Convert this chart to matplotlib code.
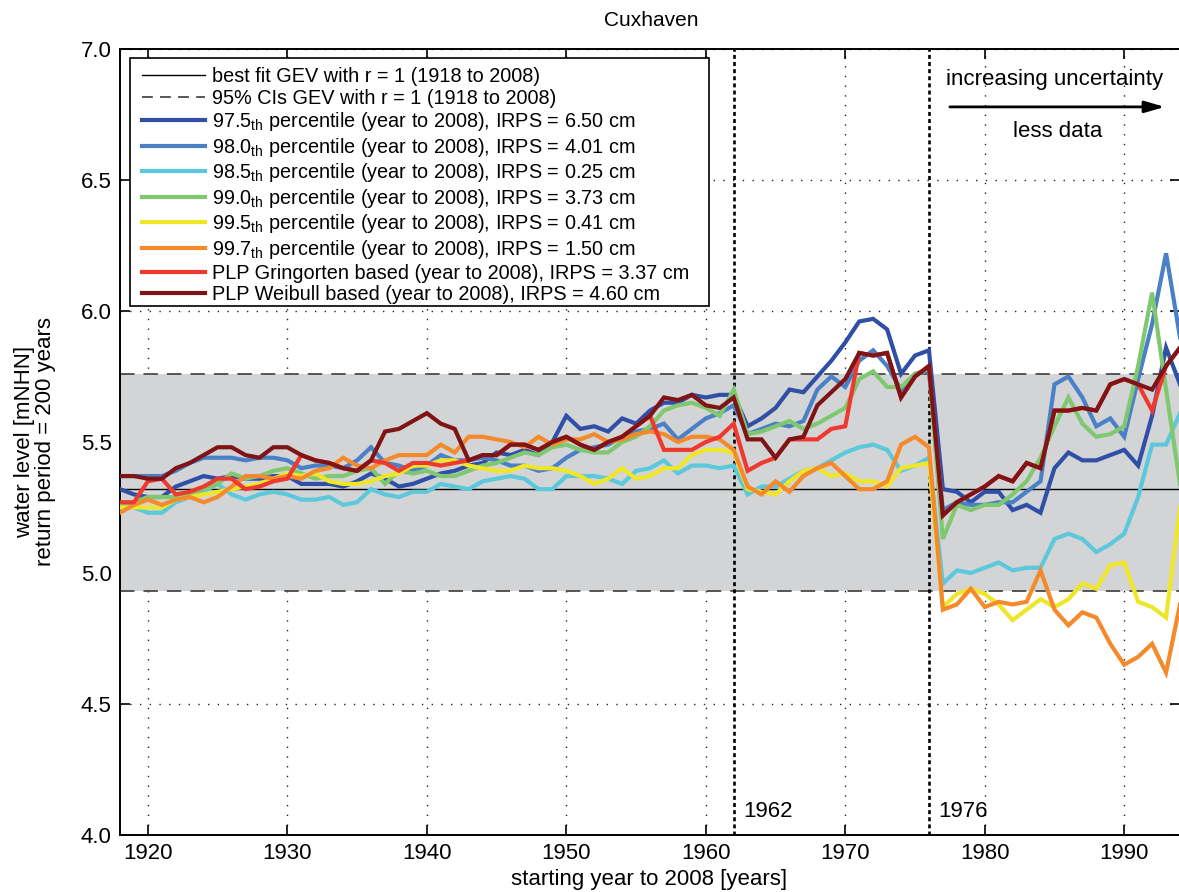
import numpy as np
import matplotlib
matplotlib.use("Agg")
import matplotlib.pyplot as plt
from matplotlib.lines import Line2D
from matplotlib.patches import Rectangle

plt.rcParams['font.family'] = ['Liberation Sans', 'DejaVu Sans']
plt.rcParams['mathtext.fontset'] = 'custom'
plt.rcParams['mathtext.rm'] = 'Liberation Sans'

# ---- data -----------------------------------------------------------------
years = np.arange(1918, 1995)

best_fit = 5.32
ci_low, ci_high = 4.93, 5.76

p975 = [5.32, 5.30, 5.29, 5.29, 5.33, 5.35, 5.37, 5.36, 5.37, 5.36, 5.36, 5.37, 5.37, 5.34, 5.34, 5.34, 5.33, 5.35, 5.38, 5.36, 5.33, 5.34,
        5.36, 5.38, 5.39, 5.41, 5.42, 5.46, 5.45, 5.47, 5.45, 5.50, 5.60, 5.55, 5.56, 5.54, 5.59, 5.57, 5.62, 5.65, 5.65, 5.68, 5.67, 5.68,
        5.68, 5.56, 5.59, 5.63, 5.70, 5.69, 5.75, 5.81, 5.88, 5.96, 5.97, 5.93, 5.76, 5.83, 5.85,
        5.32, 5.31, 5.27, 5.31, 5.31, 5.24, 5.26, 5.23, 5.40, 5.46, 5.43, 5.43, 5.45, 5.47, 5.41, 5.60, 5.86, 5.72]

p980 = [5.37, 5.37, 5.37, 5.37, 5.39, 5.42, 5.44, 5.44, 5.44, 5.43, 5.44, 5.44, 5.43, 5.40, 5.41, 5.41, 5.40, 5.43, 5.48, 5.42, 5.41, 5.39,
        5.41, 5.45, 5.43, 5.43, 5.44, 5.43, 5.41, 5.41, 5.39, 5.40, 5.44, 5.47, 5.48, 5.49, 5.52, 5.54, 5.55, 5.57, 5.51, 5.55, 5.59, 5.61,
        5.64, 5.53, 5.55, 5.57, 5.56, 5.58, 5.70, 5.75, 5.71, 5.81, 5.85, 5.79, 5.70, 5.76, 5.77,
        5.24, 5.27, 5.26, 5.26, 5.27, 5.27, 5.31, 5.35, 5.72, 5.75, 5.67, 5.56, 5.59, 5.52, 5.74, 5.95, 6.22, 5.90]

p985 = [5.26, 5.25, 5.23, 5.23, 5.27, 5.29, 5.31, 5.34, 5.30, 5.28, 5.30, 5.31, 5.30, 5.28, 5.28, 5.29, 5.26, 5.27, 5.32, 5.30, 5.29, 5.31,
        5.31, 5.34, 5.33, 5.32, 5.35, 5.36, 5.37, 5.36, 5.32, 5.32, 5.37, 5.37, 5.37, 5.36, 5.34, 5.39, 5.40, 5.43, 5.38, 5.41, 5.41, 5.40,
        5.41, 5.30, 5.33, 5.33, 5.36, 5.39, 5.40, 5.43, 5.46, 5.48, 5.49, 5.47, 5.39, 5.41, 5.44,
        4.96, 5.01, 5.00, 5.02, 5.04, 5.01, 5.02, 5.02, 5.13, 5.15, 5.13, 5.08, 5.11, 5.15, 5.29, 5.49, 5.49, 5.61]

p990 = [5.25, 5.27, 5.29, 5.29, 5.29, 5.30, 5.32, 5.34, 5.38, 5.36, 5.37, 5.39, 5.40, 5.38, 5.36, 5.37, 5.37, 5.39, 5.40, 5.34, 5.39, 5.38,
        5.39, 5.37, 5.37, 5.39, 5.41, 5.42, 5.44, 5.46, 5.45, 5.48, 5.49, 5.47, 5.46, 5.46, 5.50, 5.52, 5.56, 5.62, 5.64, 5.65, 5.63, 5.60,
        5.70, 5.53, 5.54, 5.56, 5.58, 5.55, 5.57, 5.60, 5.63, 5.74, 5.77, 5.71, 5.71, 5.76, 5.78,
        5.13, 5.26, 5.24, 5.26, 5.26, 5.30, 5.35, 5.44, 5.56, 5.67, 5.57, 5.52, 5.53, 5.56, 5.79, 6.07, 5.70, 5.34]

p995 = [5.25, 5.25, 5.25, 5.25, 5.28, 5.29, 5.30, 5.31, 5.32, 5.33, 5.34, 5.36, 5.38, 5.37, 5.38, 5.35, 5.34, 5.34, 5.35, 5.37, 5.38, 5.41,
        5.41, 5.43, 5.43, 5.41, 5.40, 5.39, 5.39, 5.41, 5.40, 5.40, 5.39, 5.37, 5.34, 5.36, 5.40, 5.36, 5.37, 5.40, 5.40, 5.45, 5.47, 5.47,
        5.46, 5.32, 5.31, 5.30, 5.35, 5.39, 5.40, 5.37, 5.38, 5.35, 5.35, 5.33, 5.40, 5.41, 5.42,
        4.87, 4.92, 4.94, 4.92, 4.88, 4.82, 4.86, 4.90, 4.87, 4.90, 4.96, 4.94, 5.03, 5.04, 4.89, 4.87, 4.83, 5.25]

p997 = [5.23, 5.26, 5.28, 5.26, 5.28, 5.29, 5.27, 5.29, 5.33, 5.37, 5.37, 5.36, 5.37, 5.36, 5.39, 5.40, 5.44, 5.41, 5.40, 5.43, 5.45, 5.45,
        5.45, 5.49, 5.46, 5.52, 5.52, 5.51, 5.50, 5.48, 5.52, 5.49, 5.51, 5.51, 5.53, 5.50, 5.51, 5.53, 5.54, 5.53, 5.50, 5.52, 5.52, 5.51,
        5.47, 5.33, 5.30, 5.35, 5.31, 5.37, 5.40, 5.42, 5.37, 5.32, 5.32, 5.35, 5.49, 5.52, 5.48,
        4.86, 4.88, 4.94, 4.87, 4.89, 4.88, 4.89, 5.01, 4.86, 4.80, 4.85, 4.83, 4.73, 4.65, 4.68, 4.73, 4.62, 4.88]

plp_gringorten = [5.27, 5.27, 5.35, 5.36, 5.30, 5.31, 5.33, 5.36, 5.36, 5.32, 5.33, 5.35, 5.36, 5.45, 5.43, 5.42, 5.40, 5.39, 5.43, 5.42, 5.39, 5.42,
                  5.42, 5.41, 5.42, 5.43, 5.45, 5.45, 5.49, 5.49, 5.47, 5.50, 5.52, 5.49, 5.47, 5.50, 5.52, 5.56, 5.60, 5.47, 5.47, 5.47, 5.50, 5.52,
                  5.57, 5.39, 5.42, 5.44, 5.51, 5.51, 5.51, 5.55, 5.56, 5.84, 5.83, 5.84, 5.67, 5.75, 5.79,
                  5.22, 5.27, 5.30, 5.33, 5.37, 5.35, 5.42, 5.40, 5.62, 5.62, 5.63, 5.62, 5.72, 5.74, 5.72, 5.62, 5.79, 5.86]

plp_weibull = [5.37, 5.37, 5.36, 5.36, 5.40, 5.42, 5.45, 5.48, 5.48, 5.45, 5.44, 5.48, 5.48, 5.45, 5.43, 5.42, 5.40, 5.39, 5.43, 5.54, 5.55, 5.58,
               5.61, 5.57, 5.55, 5.43, 5.45, 5.45, 5.49, 5.49, 5.47, 5.50, 5.52, 5.49, 5.47, 5.50, 5.52, 5.56, 5.60, 5.67, 5.66, 5.68, 5.64, 5.63,
               5.67, 5.51, 5.51, 5.44, 5.51, 5.52, 5.64, 5.69, 5.74, 5.84, 5.83, 5.84, 5.67, 5.75, 5.79,
               5.22, 5.27, 5.30, 5.33, 5.37, 5.35, 5.42, 5.40, 5.62, 5.62, 5.63, 5.62, 5.72, 5.74, 5.72, 5.70, 5.79, 5.86]

series_labels = [
    r"97.5$_{\mathrm{th}}$ percentile (year to 2008), IRPS = 6.50 cm",
    r"98.0$_{\mathrm{th}}$ percentile (year to 2008), IRPS = 4.01 cm",
    r"98.5$_{\mathrm{th}}$ percentile (year to 2008), IRPS = 0.25 cm",
    r"99.0$_{\mathrm{th}}$ percentile (year to 2008), IRPS = 3.73 cm",
    r"99.5$_{\mathrm{th}}$ percentile (year to 2008), IRPS = 0.41 cm",
    r"99.7$_{\mathrm{th}}$ percentile (year to 2008), IRPS = 1.50 cm",
    "PLP Gringorten based (year to 2008), IRPS = 3.37 cm",
    "PLP Weibull based (year to 2008), IRPS = 4.60 cm",
]
series_values = [p975, p980, p985, p990, p995, p997, plp_gringorten, plp_weibull]
series_colors = ["#3050a8", "#4a80c6", "#5cc8dc", "#80c870", "#f0e628",
                 "#f58a2c", "#ee3a2e", "#7e1416"]

marker_years = [1962, 1976]
x_ticks = [1920, 1930, 1940, 1950, 1960, 1970, 1980, 1990]
y_ticks = [4.0, 4.5, 5.0, 5.5, 6.0, 6.5, 7.0]

# ---- figure ---------------------------------------------------------------
W, H = 1179, 892
fig = plt.figure(figsize=(W / 100, H / 100), dpi=100)
ax = fig.add_axes([120 / W, 1 - 835 / H, (1180 - 120) / W, (835 - 49) / H])

ax.set_xlim(1918, 1994)
ax.set_ylim(4.0, 7.0)
ax.set_xticks(x_ticks)
ax.set_yticks(y_ticks)
ax.set_yticklabels([f"{v:.1f}" for v in y_ticks])
ax.tick_params(direction="in", length=7, width=1.2, top=True, right=True,
               labelsize=16, pad=6)
for s in ax.spines.values():
    s.set_linewidth(1.4)

ax.grid(True, color="#222222", linestyle=(0, (1, 6)), linewidth=1.0, zorder=0)
ax.set_axisbelow(True)

# confidence band of the GEV fit
ax.axhspan(ci_low, ci_high, color="#d3d4d6", zorder=1, lw=0)
ax.axhline(ci_low, color="#4a4a4a", lw=1.3, ls=(0, (8, 5)), zorder=2)
ax.axhline(ci_high, color="#4a4a4a", lw=1.3, ls=(0, (8, 5)), zorder=2)
ax.axhline(best_fit, color="black", lw=1.0, zorder=2)

for yr in marker_years:
    ax.axvline(yr, color="black", lw=1.9, ls=(0, (1.5, 1.2)), zorder=2.5)
    ax.text(yr + 0.7, 4.09, str(yr), fontsize=16, ha="left", va="center")

handles = [Line2D([], [], color="black", lw=1.0),
           Line2D([], [], color="#4a4a4a", lw=1.3, ls=(0, (6, 4)))]
labels = ["best fit GEV with r = 1 (1918 to 2008)",
          "95% CIs GEV with r = 1 (1918 to 2008)"]
for vals, col, lab in zip(series_values, series_colors, series_labels):
    ln, = ax.plot(years, vals, color=col, lw=3.0, solid_joinstyle="miter",
                  zorder=3)
    handles.append(ln)
    labels.append(lab)

# legend box
box = Rectangle((130 / W, 1 - 306 / H), (709 - 130) / W, (306 - 58) / H,
                transform=fig.transFigure, facecolor="white",
                edgecolor="black", linewidth=1.2, zorder=4.9)
fig.add_artist(box)
leg = fig.legend(handles, labels, loc="upper left",
                 bbox_to_anchor=(133 / W, 1 - 58 / H), borderaxespad=0,
                 fontsize=14.3, handlelength=3.15, handletextpad=0.4,
                 labelspacing=0.13, borderpad=0.45, frameon=False)
leg.set_zorder(5)

# annotation on the right
ax.annotate("", xy=(1993.1, 6.779), xytext=(1977.3, 6.779),
            arrowprops=dict(arrowstyle="-|>,head_length=1.2,head_width=0.35",
                            color="black", lw=2.0))
ax.text(1985.0, 6.882, "increasing uncertainty", fontsize=16,
        ha="center", va="center")
ax.text(1985.2, 6.687, "less data", fontsize=16, ha="center", va="center")

fig.text(651 / W, 1 - 20 / H, "Cuxhaven", fontsize=15, ha="center",
         va="center")
fig.text(649 / W, 1 - 880 / H, "starting year to 2008 [years]", fontsize=16,
         ha="center", va="center")
fig.text(35 / W, 1 - 442 / H, "water level [mNHN]\nreturn period = 200 years",
         fontsize=16, ha="center", va="center", rotation=90,
         multialignment="center", linespacing=1.0)

fig.savefig("out.png", dpi=100)
